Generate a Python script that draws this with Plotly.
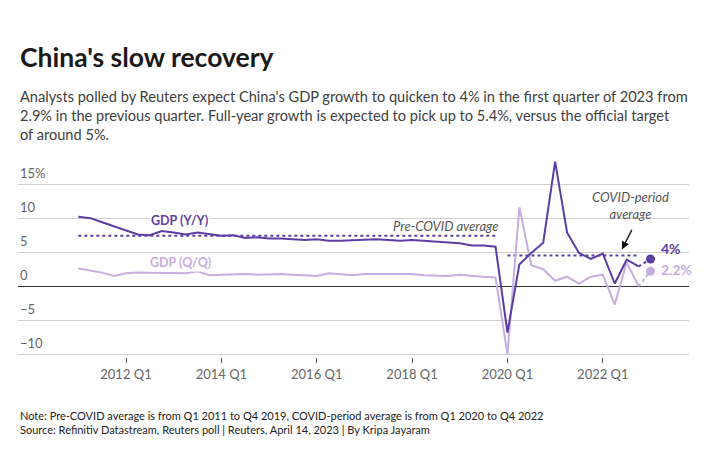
import plotly.graph_objects as go

# ---------------- data ----------------
quarters = list(range(48))  # 0 = 2011 Q1 ... 47 = 2022 Q4
gdp_yy = [10.2, 10.0, 9.4, 8.8,
          8.1, 7.6, 7.5, 8.1,
          7.9, 7.6, 7.9, 7.7,
          7.4, 7.5, 7.1, 7.2,
          7.0, 7.0, 6.9, 6.8,
          6.9, 6.7, 6.7, 6.8,
          6.9, 6.9, 6.8, 6.7,
          6.8, 6.7, 6.5, 6.4,
          6.3, 6.0, 6.0, 5.8,
          -6.8, 3.2, 4.9, 6.4,
          18.3, 7.9, 4.9, 4.0,
          4.8, 0.4, 3.9, 2.9]
gdp_qq = [2.6, 2.3, 2.0, 1.5,
          1.9, 2.0, 2.0, 1.9,
          1.9, 1.9, 2.2, 1.6,
          1.7, 1.8, 1.8, 1.7,
          1.8, 1.8, 1.7, 1.6,
          1.5, 1.9, 1.7, 1.6,
          1.8, 1.8, 1.7, 1.7,
          1.8, 1.6, 1.5, 1.5,
          1.7, 1.5, 1.4, 1.3,
          -10.0, 11.6, 3.1, 2.5,
          0.8, 1.4, 0.4, 1.4,
          1.7, -2.7, 3.5, 0.0]
forecast_q = 48  # 2023 Q1
forecast_yy = 4.0
forecast_qq = 2.2
precovid_avg = 7.4
precovid_span = [0, 35]
covid_avg = 4.5
covid_span = [36, 47]
xtick_vals = [4, 12, 20, 28, 36, 44]
xtick_text = ["2012 Q1", "2014 Q1", "2016 Q1", "2018 Q1", "2020 Q1", "2022 Q1"]
ytick_vals = [15, 10, 5, 0, -5, -10]
ytick_text = ["15%", "10", "5", "0", "\u22125", "\u221210"]

DARK = "#5b3ea3"
LIGHT = "#c7aee0"
FONT = "Lato"

W, H = 710, 473
M_L, M_R, M_T, M_B = 18, 21, 161, 116
plot_h = H - M_T - M_B


def py(pix):
    return (H - M_B - pix) / plot_h


fig = go.Figure()

# averages
fig.add_trace(go.Scatter(x=precovid_span, y=[precovid_avg] * 2, mode="lines",
                         line=dict(color=DARK, width=2, dash="dot"), hoverinfo="skip"))
fig.add_trace(go.Scatter(x=covid_span, y=[covid_avg] * 2, mode="lines",
                         line=dict(color=DARK, width=2, dash="dot"), hoverinfo="skip"))

# Q/Q
fig.add_trace(go.Scatter(x=quarters, y=gdp_qq, mode="lines",
                         line=dict(color=LIGHT, width=2)))
fig.add_trace(go.Scatter(x=[quarters[-1], forecast_q], y=[gdp_qq[-1], forecast_qq], mode="lines",
                         line=dict(color=LIGHT, width=2, dash="dot")))
fig.add_trace(go.Scatter(x=[forecast_q], y=[forecast_qq], mode="markers",
                         marker=dict(color=LIGHT, size=9)))
# Y/Y
fig.add_trace(go.Scatter(x=quarters, y=gdp_yy, mode="lines",
                         line=dict(color=DARK, width=2)))
fig.add_trace(go.Scatter(x=[quarters[-1], forecast_q], y=[gdp_yy[-1], forecast_yy], mode="lines",
                         line=dict(color=DARK, width=2, dash="dot")))
fig.add_trace(go.Scatter(x=[forecast_q], y=[forecast_yy], mode="markers",
                         marker=dict(color=DARK, size=9)))

ann = []
# title / subtitle / footer
ann.append(dict(x=0, xref="paper", y=py(57), yref="paper", xanchor="left", yanchor="middle",
                showarrow=False,
                text="<b>China's slow recovery</b>", font=dict(family=FONT, size=26.5, color="#1a1a1a")))
ann.append(dict(x=0, xref="paper", y=py(115), yref="paper", xanchor="left", yanchor="middle",
                showarrow=False, align="left",
                text="Analysts polled by Reuters expect China's GDP growth to quicken to 4% in the first quarter of 2023 from<br>"
                     "2.9% in the previous quarter. Full-year growth is expected to pick up to 5.4%, versus the official target<br>"
                     "of around 5%.",
                font=dict(family=FONT, size=14.6, color="#404040")))
ann.append(dict(x=0, xref="paper", y=py(422), yref="paper", xanchor="left", yanchor="middle",
                showarrow=False, align="left",
                text="Note: Pre-COVID average is from Q1 2011 to Q4 2019, COVID-period average is from Q1 2020 to Q4 2022<br>"
                     "Source: Refinitiv Datastream, Reuters poll | Reuters, April 14, 2023 | By Kripa Jayaram",
                font=dict(family=FONT, size=11, color="#222")))
# y tick labels above gridlines
for v, t in zip(ytick_vals, ytick_text):
    ann.append(dict(x=0, xref="paper", y=v, yref="y", xanchor="left", yanchor="bottom",
                    yshift=1, showarrow=False, text=t, font=dict(family=FONT, size=13, color="#666")))
# in-chart labels
ann.append(dict(x=8.5, y=9.6, showarrow=False, text="<b>GDP (Y/Y)</b>", bgcolor="white",
                font=dict(family=FONT, size=12.5, color=DARK)))
ann.append(dict(x=8.6, y=3.5, showarrow=False, text="<b>GDP (Q/Q)</b>", bgcolor="white",
                font=dict(family=FONT, size=12.5, color=LIGHT)))
ann.append(dict(x=30.8, y=8.9, showarrow=False, text="<i>Pre-COVID average</i>",
                font=dict(family=FONT, size=13, color="#555")))
ann.append(dict(x=46.3, y=11.8, showarrow=False, text="<i>COVID-period<br>average</i>",
                font=dict(family=FONT, size=13, color="#555")))
ann.append(dict(x=45.6, y=5.4, ax=46.5, ay=8.5, axref="x", ayref="y", showarrow=True,
                arrowhead=2, arrowsize=1.2, arrowwidth=1.3, arrowcolor="#111", text=""))
ann.append(dict(x=48.7, y=5.6, xanchor="left", showarrow=False, text="<b>4%</b>",
                font=dict(family=FONT, size=14, color=DARK)))
ann.append(dict(x=48.7, y=2.4, xanchor="left", showarrow=False, text="<b>2.2%</b>",
                font=dict(family=FONT, size=14, color=LIGHT)))

fig.update_layout(
    width=W, height=H,
    margin=dict(l=M_L, r=M_R, t=M_T, b=M_B),
    paper_bgcolor="white", plot_bgcolor="white",
    showlegend=False,
    annotations=ann,
    font=dict(family=FONT),
)
fig.update_xaxes(range=[-5.06, 51.23], tickvals=xtick_vals, ticktext=xtick_text,
                 showgrid=False, zeroline=False, showline=False,
                 ticks="outside", ticklen=5, tickcolor="#555",
                 tickfont=dict(family=FONT, size=13, color="#666"))
fig.update_yaxes(range=[-10.4, 18.4], tickvals=ytick_vals, showticklabels=False,
                 showgrid=True, gridcolor="#cfcfcf", gridwidth=1,
                 zeroline=True, zerolinecolor="#333", zerolinewidth=1.3)

fig.write_html("out.html", config={"displayModeBar": False},
               post_script="document.body.style.margin='0';document.body.style.overflow='hidden';")
